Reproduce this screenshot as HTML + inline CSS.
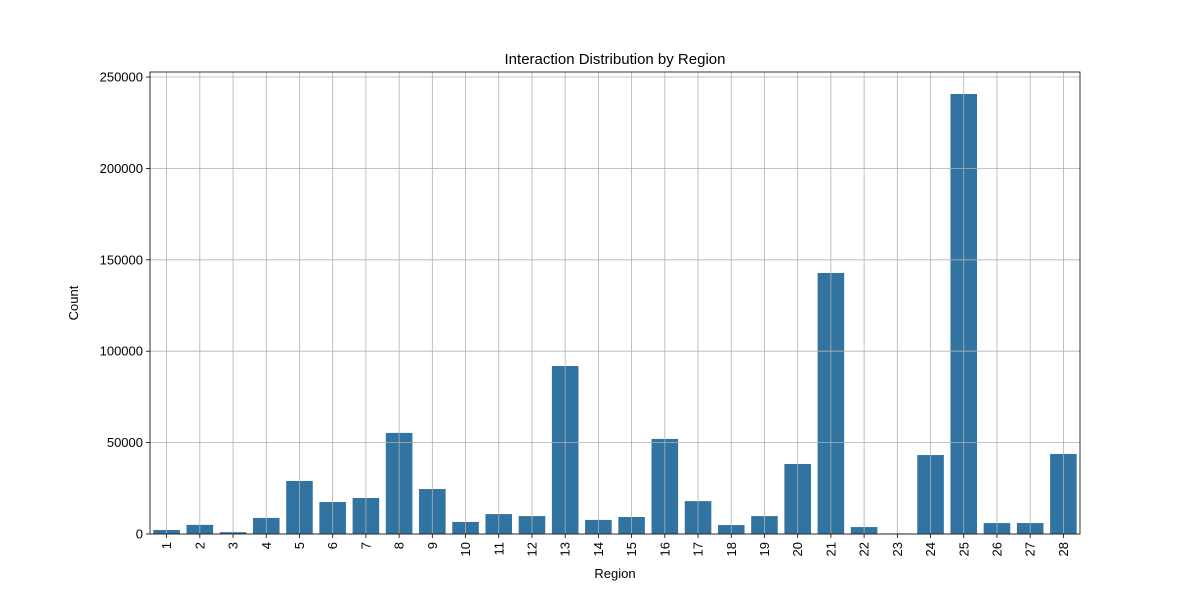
<!DOCTYPE html>
<html><head><meta charset="utf-8"><style>
html,body{margin:0;padding:0;background:#fff;}
svg text{font-family:"Liberation Sans","DejaVu Sans",sans-serif;fill:#000;}
</style></head><body>
<svg id="chart" width="1200" height="600" xmlns="http://www.w3.org/2000/svg">
<rect width="1200" height="600" fill="#fff"/>
<g id="bars"></g><g id="grid"></g><g id="axes"></g>
<text x="615" y="64" font-size="15" text-anchor="middle">Interaction Distribution by Region</text>
<text x="615" y="578" font-size="13" text-anchor="middle">Region</text>
<text x="0" y="0" font-size="13" text-anchor="middle" transform="translate(78,303) rotate(-90)">Count</text>
</svg>
<script>
const categories = ["1","2","3","4","5","6","7","8","9","10","11","12","13","14","15","16","17","18","19","20","21","22","23","24","25","26","27","28"];
const counts = [2200,5000,1000,8800,29000,17500,19700,55300,24600,6600,10900,9800,91900,7700,9300,52000,18000,4900,9800,38300,142800,3800,300,43200,240700,6000,6000,43800];
const yTicks = [0,50000,100000,150000,200000,250000];
const yTickLabels = ["0","50000","100000","150000","200000","250000"];

const NS="http://www.w3.org/2000/svg";
const L=150,R=1080,T=72,B=534;
const yMax=(B-T)/(457/250000);
const band=(R-L)/categories.length;
const x=i=>L+band*(i+0.5);
const y=v=>B-(v/yMax)*(B-T);
function mk(tag,attrs,parent){const e=document.createElementNS(NS,tag);for(const k in attrs)e.setAttribute(k,attrs[k]);parent.appendChild(e);return e;}
const gb=document.getElementById('bars'),gg=document.getElementById('grid'),ga=document.getElementById('axes');
counts.forEach((v,i)=>{
  const r=mk('rect',{x:x(i)-band*0.4,y:y(v),width:band*0.8,height:B-y(v),fill:'#3274a1'},gb);
  
  
});
categories.forEach((c,i)=>{
  const g=mk('line',{x1:x(i),x2:x(i),y1:T,y2:B,stroke:'#b0b0b0','stroke-width':0.8},gg);
  
  
  mk('line',{x1:x(i),x2:x(i),y1:B,y2:B+4,stroke:'#000','stroke-width':0.8},ga);
  const t=mk('text',{x:0,y:0,'font-size':13,'text-anchor':'end',transform:`translate(${x(i)+4.5},${B+8}) rotate(-90)`},ga);
  t.textContent=c;
  
  
});
yTicks.forEach((v,i)=>{
  const g=mk('line',{x1:L,x2:R,y1:y(v),y2:y(v),stroke:'#b0b0b0','stroke-width':0.8},gg);
  
  
  mk('line',{x1:L-4,x2:L,y1:y(v),y2:y(v),stroke:'#000','stroke-width':0.8},ga);
  const t=mk('text',{x:L-7,y:y(v)+4.5,'font-size':13,'text-anchor':'end'},ga);
  t.textContent=yTickLabels[i];
  
  
});
const f=mk('rect',{x:L,y:T,width:R-L,height:B-T,fill:'none',stroke:'#000','stroke-width':0.8},ga);


</script>
</body></html>
